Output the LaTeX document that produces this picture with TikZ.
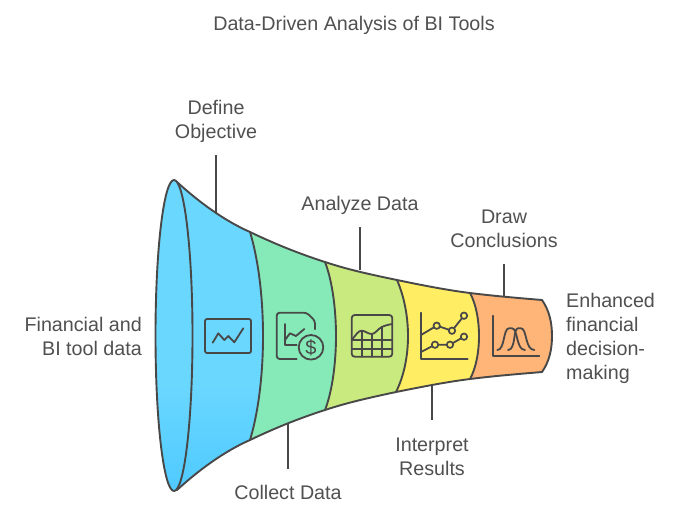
\documentclass[tikz,border=0pt]{standalone}
\usepackage{fontspec}
\setmainfont{Liberation Sans}
\usetikzlibrary{positioning}
\definecolor{inkgray}{HTML}{484848}
\definecolor{textgray}{HTML}{505050}
\definecolor{funnelblue}{HTML}{6AD7FF}
\definecolor{funneldeep}{HTML}{4FCAFF}
\definecolor{funnelgreen}{HTML}{85EAB7}
\definecolor{funnellime}{HTML}{C9EA7F}
\definecolor{funnelyellow}{HTML}{FFEE63}
\definecolor{funnelorange}{HTML}{FFB577}
\pgfdeclareverticalshading{funnelshade}{100bp}{
  color(0bp)=(funneldeep); color(25bp)=(funneldeep); color(42bp)=(funnelblue); color(100bp)=(funnelblue)}
\tikzset{
  section/.style={draw=inkgray, line width=1.9pt, line join=round},
  leader/.style={draw=inkgray, line width=1.7pt},
  icon/.style={draw=inkgray, line width=1.8pt, line join=round, line cap=round},
  dot/.style={draw=inkgray, line width=1.7pt},
  label/.style={font=\fontsize{19.7}{24}\selectfont, text=textgray, inner sep=0pt, align=center}
}
\begin{document}
\begin{tikzpicture}[x=1pt, y=-1pt]
  \useasboundingbox (0,0) rectangle (684,516);
  \node[label] (title) at (354,25) {Data-Driven Analysis of BI Tools};
  % funnel, right to left so that each bulge covers the next part
  \path[section, fill=funnelorange] (470,293) .. controls (494,296) and (518,298) .. (542,300)
    .. controls (549,310) and (552,322) .. (552,336) .. controls (552,350) and (549,362) .. (542,372)
    .. controls (518,374) and (494,376) .. (470,379) -- cycle;
  \path[section, fill=funnelyellow] (397,280) .. controls (421,285) and (446,290) .. (470,293)
    .. controls (476,304) and (479,320) .. (479,336) .. controls (479,352) and (476,368) .. (470,379)
    .. controls (446,382) and (421,387) .. (396,392) -- cycle;
  \path[section, fill=funnellime] (325,262) .. controls (349,270) and (373,275) .. (397,280)
    .. controls (404,296) and (408,316) .. (408,336) .. controls (408,356) and (404,376) .. (396,392)
    .. controls (373,397) and (349,402) .. (325,410) -- cycle;
  \path[section, fill=funnelgreen] (250,232) .. controls (275,244) and (300,254) .. (325,262)
    .. controls (332,280) and (336,308) .. (336,336) .. controls (336,364) and (332,392) .. (325,410)
    .. controls (300,418) and (275,428) .. (250,440) -- cycle;
  \path[section, shading=funnelshade]
    (177,182) .. controls (200,203) and (225,221) .. (250,232)
    .. controls (259,262) and (263,300) .. (263,336) .. controls (263,372) and (259,410) .. (250,440)
    .. controls (225,451) and (200,469) .. (177,490) -- cycle;
  \path[section, shading=funnelshade]
    (174,335.5) ellipse [x radius=18.5, y radius=155.5];
  % labels and leaders
  \node[label] (define) at (216,121) {Define\\Objective};
  \node[label] (analyze) at (360,205) {Analyze Data};
  \node[label] (conclude) at (504,229) {Draw\\Conclusions};
  \node[label] (collect) at (288,492) {Collect Data};
  \node[label] (interpret) at (432,456.5) {Interpret\\Results};
  \node[label, align=right, anchor=east] (source) at (142,336) {Financial and\\BI tool data};
  \node[label, align=left, anchor=west] (outcome) at (566,338) {Enhanced\\financial\\decision-\\making};
  \coordinate (define_end) at (216,155);
  \coordinate (define_edge) at (216,213);
  \coordinate (analyze_end) at (360,227);
  \coordinate (analyze_edge) at (360,270);
  \coordinate (conclude_end) at (504,264);
  \coordinate (conclude_edge) at (504,296);
  \coordinate (collect_end) at (288,469);
  \coordinate (collect_edge) at (288,423);
  \coordinate (interpret_end) at (432,420);
  \coordinate (interpret_edge) at (432,386);
  \draw[leader] (define_end) -- (define_edge);
  \draw[leader] (analyze_end) -- (analyze_edge);
  \draw[leader] (conclude_end) -- (conclude_edge);
  \draw[leader] (collect_end) -- (collect_edge);
  \draw[leader] (interpret_end) -- (interpret_edge);
  % icon of the blue part
  \draw[icon, rounded corners=2pt] (205,319) rectangle (251,353);
  \draw[icon] (212.7,342.7) -- (218.3,333.3) -- (224.3,340) -- (228.3,336) -- (234.3,342.3) -- (243.3,328.3);
  % icon of the green part
  \draw[icon, rounded corners=3pt] (296.7,359) -- (276.7,359) -- (276.7,312.7) -- (306.7,312.7) -- (315,320.7) -- (315,329.3);
  \draw[icon] (285,324) -- (285,345) -- (296.7,345);
  \draw[icon] (285,340) -- (290,333.3) -- (296,336) -- (304.3,329);
  \draw[icon] (311,347.3) circle (12.3);
  \node[font=\fontsize{20}{20}\selectfont, text=inkgray, inner sep=0pt] (dollar) at (311,347.3) {\$};
  % icon of the lime part
  \draw[icon, rounded corners=3pt] (351.7,315) rectangle (392.3,356.7);
  \draw[icon] (351.7,340) .. controls (356,335) and (358,330.7) .. (361.7,330.7)
    .. controls (365,330.7) and (368,334) .. (371.7,334) .. controls (375,334) and (378,329) .. (381.7,327)
    .. controls (385,325.5) and (389,324.5) .. (392.3,324);
  \foreach \gx/\gy in {361.7/330.7, 372.3/334, 382.3/327}
    \draw[icon] (\gx,\gy) -- (\gx,356.7);
  \draw[icon] (351.7,340) -- (392.3,340);
  \draw[icon] (351.7,349) -- (392.3,349);
  % icon of the yellow part
  \draw[icon] (421,312.7) -- (421,359) -- (467.7,359);
  \draw[icon] (421,335) -- (436.7,325.7) -- (452,330.7) -- (464,315.7);
  \draw[icon] (421,352) -- (435,344.7) -- (450,344.7) -- (464,336.7);
  \foreach \dx/\dy in {436.7/325.7, 452/330.7, 464/315.7, 435/344.7, 450/344.7, 464/336.7}
    \draw[dot, fill=funnelyellow] (\dx,\dy) circle (3.2);
  % icon of the orange part
  \draw[icon] (492.7,315.7) -- (492.7,355.7) -- (539.3,355.7);
  \draw[icon] (497.3,350) .. controls (505,350) and (503,328.3) .. (509,328.3)
    -- (512,328.3) .. controls (518,328.3) and (516,350) .. (525,350);
  \draw[icon] (508,350) .. controls (516,350) and (513,328.3) .. (518,328.3)
    -- (521,328.3) .. controls (527,328.3) and (525,350) .. (534.3,350);
\end{tikzpicture}
\end{document}
